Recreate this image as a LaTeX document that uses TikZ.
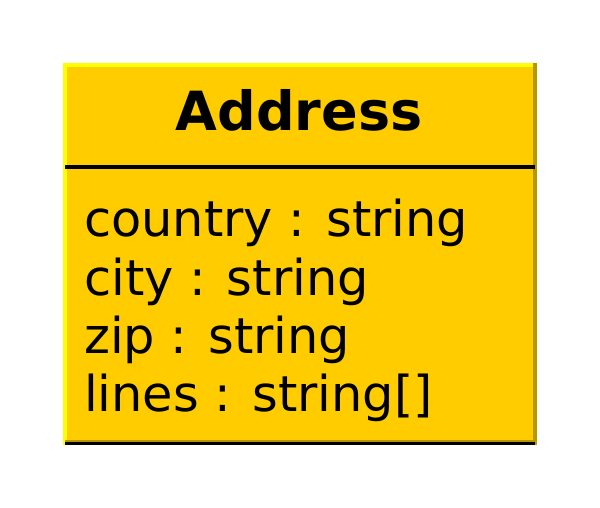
\documentclass[tikz,border=0pt]{standalone}
\usepackage{fontspec}
\setmainfont{DejaVu Sans}
\definecolor{classfill}{RGB}{255,204,0}
\definecolor{classlight}{RGB}{255,255,0}
\definecolor{classdark}{RGB}{184,150,0}

\begin{document}
\begin{tikzpicture}[x=1pt, y=-1pt,
  every node/.style = {inner sep=0pt, anchor=base west,
    font=\fontsize{49.4}{58}\selectfont}]
  \useasboundingbox (0,0) rectangle (600,507);
  % class box with bevelled edges
  \fill[classlight] (63,63) rectangle (537,445);
  \fill[classfill] (67,67) rectangle (533,440);
  \fill[classdark] (533,63) rectangle (537,445);
  \fill[classdark] (65,440) rectangle (537,442);
  \fill[black] (65,442) rectangle (535,445);
  \fill[black] (65,165) rectangle (535,169);

  \node[anchor=base, font=\fontsize{54}{62}\selectfont\bfseries] (title) at (299,130) {Address};
  \node (country) at (84,236.7) {country : string};
  \node (city) at (84,295) {city : string};
  \node (zip) at (84,353.3) {zip : string};
  \node (lines) at (84,411.7) {lines : string[]};
\end{tikzpicture}
\end{document}
